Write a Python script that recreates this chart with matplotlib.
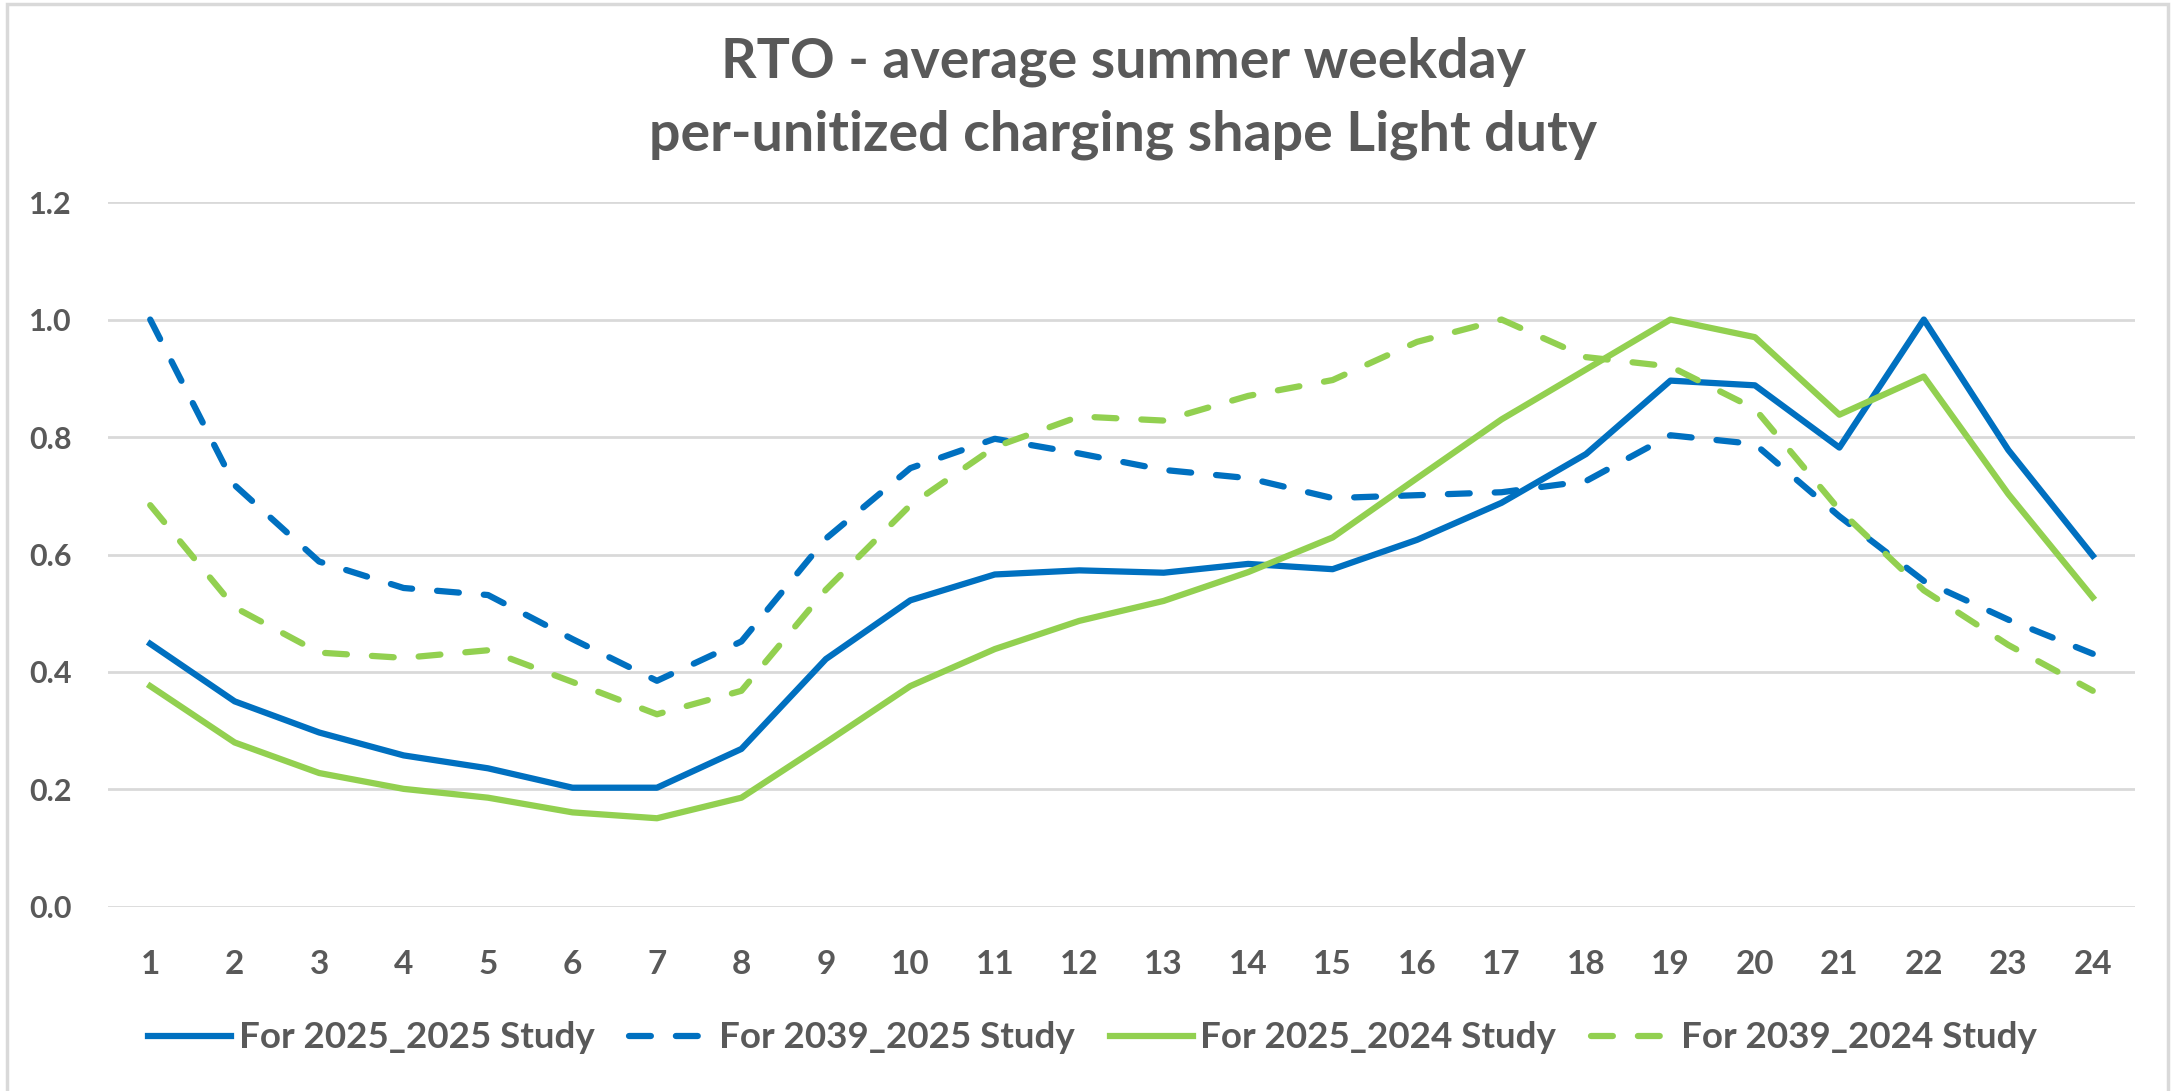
import matplotlib.pyplot as plt
from matplotlib.patches import Rectangle

# hours of the day
hours = list(range(1, 25))

# per-unitized charging shapes
study_2025_2025 = [0.448, 0.350, 0.297, 0.258, 0.236, 0.203, 0.203, 0.269, 0.422, 0.522,
                   0.566, 0.573, 0.569, 0.584, 0.575, 0.625, 0.688, 0.771, 0.896, 0.888,
                   0.782, 1.000, 0.778, 0.598]
study_2039_2025 = [1.000, 0.718, 0.588, 0.543, 0.531, 0.456, 0.385, 0.452, 0.627, 0.747,
                   0.797, 0.772, 0.744, 0.730, 0.696, 0.701, 0.706, 0.725, 0.803, 0.788,
                   0.665, 0.555, 0.489, 0.431]
study_2025_2024 = [0.376, 0.280, 0.228, 0.201, 0.186, 0.161, 0.151, 0.186, 0.280, 0.376,
                   0.439, 0.487, 0.521, 0.570, 0.629, 0.730, 0.830, 0.915, 1.000, 0.970,
                   0.838, 0.903, 0.703, 0.527]
study_2039_2024 = [0.684, 0.510, 0.433, 0.424, 0.437, 0.383, 0.328, 0.368, 0.540, 0.684,
                   0.783, 0.835, 0.828, 0.870, 0.897, 0.962, 1.000, 0.936, 0.920, 0.848,
                   0.676, 0.539, 0.446, 0.368]

BLUE = '#0070C0'
GREEN = '#92D050'
TXT = '#595959'
GRID = '#D9D9D9'

plt.rcParams['font.family'] = ['Lato', 'DejaVu Sans']

fig = plt.figure(figsize=(21.77, 10.91), dpi=100)
ax = fig.add_axes([0.0496, 0.1687, 0.9311, 0.6461])

lw = 4.5
ax.plot(hours, study_2025_2025, color=BLUE, lw=lw, label='For 2025_2025 Study')
ax.plot(hours, study_2039_2025, color=BLUE, lw=lw, ls=(0, (3.5, 4)),
        dash_capstyle='round', label='For 2039_2025 Study')
ax.plot(hours, study_2025_2024, color=GREEN, lw=lw, label='For 2025_2024 Study')
ax.plot(hours, study_2039_2024, color=GREEN, lw=lw, ls=(0, (3.5, 4)),
        dash_capstyle='round', label='For 2039_2024 Study')

ax.set_xlim(0.5, 24.5)
ax.set_ylim(0, 1.2)
ax.set_xticks(hours)
ax.set_yticks([0.0, 0.2, 0.4, 0.6, 0.8, 1.0, 1.2])
ax.set_yticklabels(['0.0', '0.2', '0.4', '0.6', '0.8', '1.0', '1.2'])
ax.grid(axis='y', color=GRID, lw=2)
ax.set_axisbelow(True)
for s in ax.spines.values():
    s.set_visible(False)
ax.tick_params(axis='both', length=0, labelcolor=TXT)
ax.tick_params(axis='y', pad=26, labelsize=22)
ax.tick_params(axis='x', pad=31, labelsize=24)
for lab in ax.get_xticklabels() + ax.get_yticklabels():
    lab.set_fontweight('bold')

# title
fig.text(0.516, 1 - 62 / 1091, 'RTO - average summer weekday', ha='center', va='center',
         fontsize=40, fontweight='bold', color=TXT)
fig.text(0.516, 1 - 135 / 1091, 'per-unitized charging shape Light duty', ha='center', va='center',
         fontsize=40, fontweight='bold', color=TXT)

leg = fig.legend(loc='center', bbox_to_anchor=(0.502, 1 - 1038 / 1091), ncol=4, frameon=False,
                 fontsize=26.5, handlelength=2.25, handletextpad=0.2, columnspacing=0.95)
for t in leg.get_texts():
    t.set_color(TXT)
    t.set_fontweight('bold')

# chart area border
fig.patches.append(Rectangle((7 / 2177, -0.05), (2168 - 7) / 2177, 1.05 - 4 / 1091,
                             transform=fig.transFigure, fill=False, edgecolor=GRID, lw=2.5))

fig.savefig('out.png', dpi=100)
